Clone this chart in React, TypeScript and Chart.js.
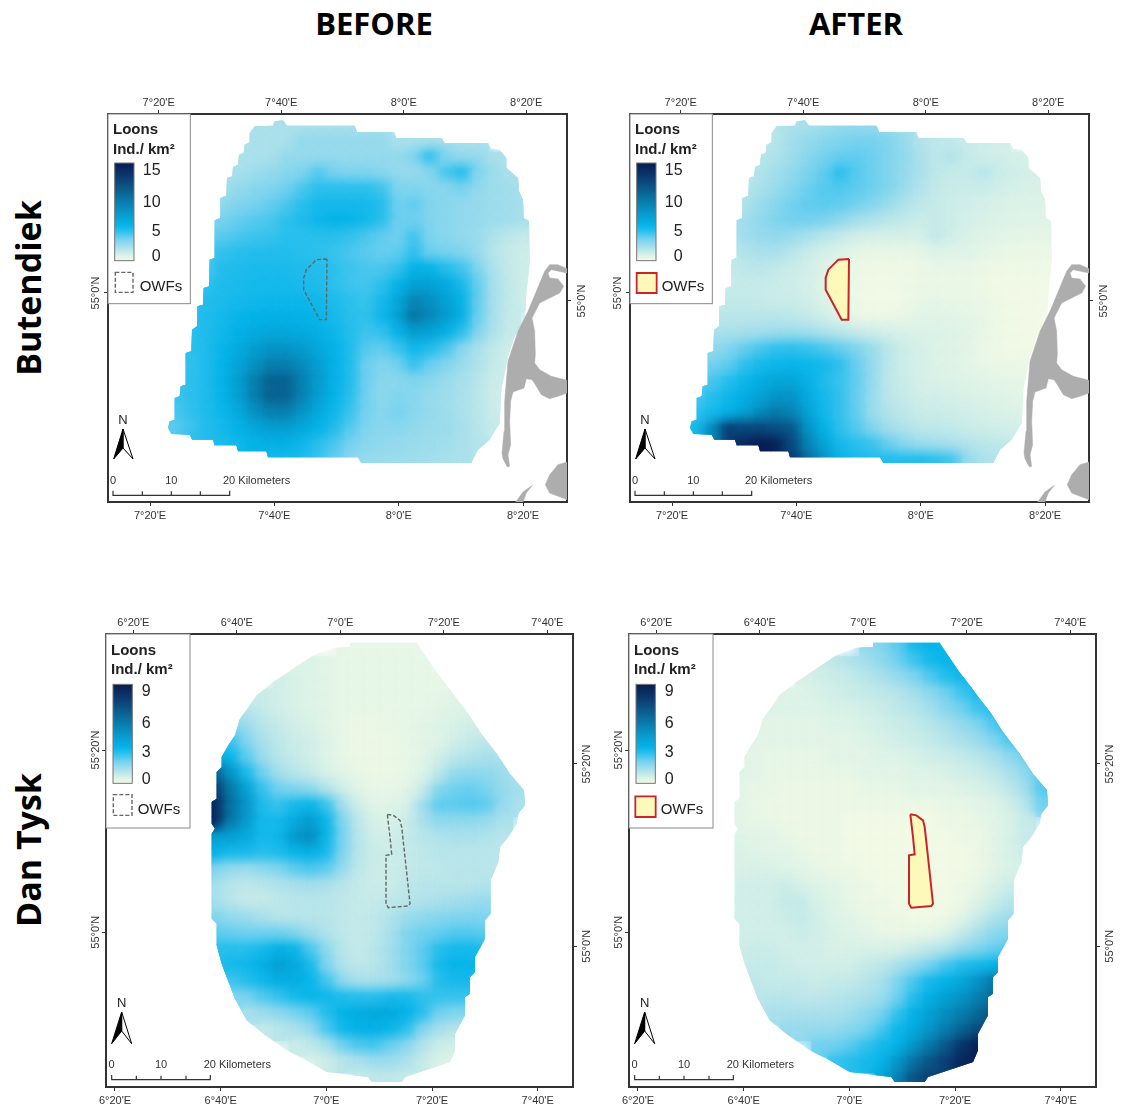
import React, { useEffect, useRef } from "react";
import { Chart, registerables } from "chart.js";

Chart.register(...registerables);

/* ---- density rows: first number is the starting column, then Ind./km² per cell ---- */
const butendiekBefore = [
  [5, 2, 2, 2, 2, 2, 2, 2, 2, 2],
  [4, 2, 2, 2, 2, 2.5, 2.5, 2.5, 2.5, 2.5, 2.5, 2, 2, 2, 2, 2, 2],
  [4, 2, 2, 2, 2.5, 2.5, 2.5, 2.5, 2.5, 2.5, 2.5, 2.5, 3, 4.5, 3, 2.5, 2.5, 2, 2],
  [3, 2, 2, 2.3, 2.5, 2.8, 3, 3.8, 3.2, 3, 3, 2.8, 2.5, 2.5, 2.8, 4, 4.8, 3, 2.3, 2, 2],
  [3, 2.3, 2.5, 2.8, 3, 3.3, 4, 4.5, 4.5, 4.5, 4.5, 4.2, 3, 3, 2.8, 2.8, 3.2, 2.6, 2.3, 2.2, 2],
  [2, 2.5, 2.6, 3, 3.2, 3.5, 4, 4.6, 5, 5, 5, 5, 4.7, 3.3, 3.6, 3, 2.8, 2.6, 2.5, 2.3, 2.2, 2.1],
  [2, 3, 3.2, 3.5, 3.8, 4, 4.5, 4.8, 5.2, 5.5, 5.3, 5.1, 4.6, 3.4, 3.4, 3, 2.8, 2.6, 2.5, 2.3, 2.2, 2.1],
  [2, 3.5, 3.7, 4, 4.2, 4.3, 4.6, 4.6, 4.6, 4.6, 4.4, 4, 3.6, 3.3, 4.2, 3, 2.8, 2.6, 2.4, 1.9, 1.5, 1.3],
  [2, 4.2, 4.4, 4.6, 4.7, 4.7, 4.7, 4.6, 4.5, 4.3, 4, 3.7, 3.5, 3.6, 4.5, 3.4, 3.2, 3, 2.4, 1.7, 1.3, 1.1],
  [2, 4, 4.7, 4.8, 4.9, 4.9, 4.9, 4.8, 4.7, 4.5, 4.2, 4, 4, 4.4, 5.5, 5.5, 4.7, 4.2, 3, 1.9, 1.3, 1.1],
  [1, 4, 4.5, 4.8, 4.9, 5, 5, 5, 4.9, 4.8, 4.5, 4.2, 4.1, 4.5, 5.5, 6.6, 6.6, 6, 5, 3.5, 2, 1.4, 1.1],
  [1, 4.5, 4.7, 4.9, 5, 5.1, 5.2, 5.2, 5.2, 5.1, 4.8, 4.5, 4.3, 5, 6.2, 8.5, 7.8, 6.6, 5.5, 3.5, 2, 1.4, 1.1],
  [1, 4.6, 4.8, 5, 5.3, 5.5, 5.6, 5.6, 5.5, 5.3, 5, 4.6, 4.4, 5.2, 6.6, 9.5, 8.2, 7, 5.7, 3.4, 2, 1.3],
  [1, 4.5, 4.8, 5.1, 5.6, 6, 6.2, 6.2, 6, 5.7, 5.2, 4.7, 4.2, 4.4, 5.5, 7, 6.6, 5.7, 4.6, 3, 1.9, 1.3],
  [0, 4.5, 4.6, 4.8, 5.3, 6, 6.8, 7.5, 7.5, 7, 6.2, 5.5, 4.8, 3.8, 3.6, 4.3, 5.2, 4.8, 4.1, 2.8, 2, 1.4, 1.1],
  [0, 4.3, 4.4, 4.8, 5.4, 6.4, 7.7, 8.8, 8.8, 8, 6.8, 5.6, 4.8, 3.4, 3, 3.3, 4.4, 3.5, 3, 2.4, 1.9, 1.3, 1.1],
  [0, 4.3, 4.5, 4.8, 5.5, 6.8, 8.8, 10.5, 10.5, 8.8, 7, 5.6, 4.8, 3.4, 2.8, 2.8, 3, 2.8, 2.4, 2.1, 1.7, 1.2],
  [0, 4.2, 4.5, 4.8, 5.4, 6.7, 8.8, 10.5, 10.5, 8.6, 6.8, 5.5, 4.6, 3.3, 2.7, 3, 2.8, 2.5, 2.3, 2, 1.6, 1.1],
  [0, 4, 4.4, 4.8, 5.2, 6, 7.6, 8.8, 8.8, 7.5, 6.2, 5.2, 4.3, 3.2, 2.8, 3.2, 2.8, 2.5, 2.3, 2, 1.6, 1.2],
  [0, 3.7, 4.2, 4.7, 5, 5.5, 6.2, 6.8, 6.8, 6.2, 5.5, 4.8, 3.8, 3, 2.8, 2.8, 2.6, 2.4, 2.4, 2.1, 1.7, 1.3],
  [1, 4.6, 4.8, 4.9, 5.2, 5.5, 5.7, 5.6, 5.2, 4.6, 4, 3.2, 2.8, 2.6, 2.5, 2.4, 2.3, 2.2, 2, 1.8],
  [6, 5, 5, 4.8, 4.3, 3.5, 2.8, 2.5, 2.4, 2.4, 2.3, 2.2, 2.1, 2],
];

const butendiekAfter = [
  [5, 1.8, 2, 2, 2.3, 2.5, 2.5, 2.5, 2.3, 2.2],
  [4, 1.5, 1.7, 2.2, 2.5, 2.8, 3, 3.2, 3.2, 3, 2.5, 1.8, 1.5, 1.4, 1.2, 1.1, 1],
  [4, 1.7, 1.9, 2.3, 2.8, 3.2, 3.5, 3.6, 3.4, 3, 2.6, 2, 1.5, 1.8, 1.3, 1.1, 1, 0.9, 0.9],
  [3, 1.5, 1.8, 2.2, 2.6, 3.1, 3.6, 4.6, 3.8, 3.4, 3, 2.5, 2, 1.5, 1.3, 1.3, 1.6, 1.2, 1, 0.9, 0.9],
  [3, 1.7, 2, 2.4, 2.9, 3.4, 3.8, 3.9, 3.7, 3.4, 3, 2.4, 1.8, 1.4, 1.2, 1.2, 1.2, 1, 0.9, 0.8, 0.8],
  [2, 1.7, 1.9, 2.4, 2.8, 3.3, 3.6, 3.7, 3.6, 3.3, 2.9, 2.4, 1.9, 1.5, 1.3, 1.1, 1, 0.9, 0.8, 0.7, 0.7, 0.7],
  [2, 2, 2.2, 2.6, 3, 3.3, 3.3, 3.1, 2.7, 2.2, 1.9, 1.6, 1.4, 1.2, 1.3, 1.1, 0.9, 0.8, 0.7, 0.6, 0.6, 0.6],
  [2, 2, 2.2, 2.5, 2.6, 2.4, 2, 1.7, 1.3, 1, 0.9, 0.9, 0.9, 0.9, 1.4, 1, 0.8, 0.6, 0.5, 0.4, 0.4, 0.4],
  [2, 1.5, 1.8, 2, 2, 1.7, 1.2, 0.9, 0.7, 0.4, 0.3, 0.3, 0.3, 0.4, 0.7, 0.6, 0.6, 0.4, 0.3, 0.2, 0.2, 0.2],
  [2, 1.3, 1.5, 1.6, 1.4, 1.2, 1, 0.7, 0.4, 0.2, 0.1, 0.1, 0.1, 0.2, 0.3, 0.3, 0.3, 0.2, 0.1, 0.1, 0.1, 0.1],
  [1, 1, 1.2, 1.3, 1.3, 1.2, 1.1, 0.9, 0.6, 0.3, 0.1, 0, 0, 0.1, 0.2, 0.2, 0.2, 0.2, 0.1, 0, 0, 0, 0],
  [1, 1.3, 1.4, 1.4, 1.3, 1.2, 1.2, 1, 0.7, 0.3, 0.1, 0, 0, 0.1, 0.3, 0.4, 0.3, 0.3, 0.2, 0.1, 0, 0, 0],
  [1, 1.6, 1.6, 1.6, 1.6, 1.6, 1.5, 1.3, 1, 0.6, 0.2, 0.2, 0.2, 0.3, 0.5, 0.5, 0.5, 0.4, 0.3, 0.1, 0, 0],
  [1, 2, 2, 2.1, 2.2, 2.3, 2.3, 2.2, 1.9, 1.6, 1.3, 1.1, 0.9, 0.8, 0.7, 0.7, 0.6, 0.5, 0.3, 0.1, 0, 0],
  [0, 2.5, 2.6, 2.9, 3.5, 4, 4.4, 4.5, 4.3, 4, 3.5, 3, 2.4, 1.6, 1.1, 0.9, 0.7, 0.6, 0.5, 0.2, 0.1, 0, 0],
  [0, 3, 3.2, 3.6, 4.4, 5, 5.2, 5.3, 5.2, 5, 4.5, 3.5, 2.5, 1.6, 1.1, 0.9, 0.7, 0.6, 0.4, 0.3, 0.2, 0.2, 0.2],
  [0, 3.7, 4, 4.6, 5.2, 5.8, 6.3, 6.3, 5.5, 4.8, 4.3, 3.6, 2.5, 1.5, 1.2, 0.9, 0.8, 0.7, 0.6, 0.5, 0.4, 0.4],
  [0, 4, 4.6, 5.2, 5.8, 6.5, 7.5, 7.5, 6, 5, 4.4, 3.5, 2.4, 1.6, 1.3, 1, 1, 0.9, 0.8, 0.7, 0.6, 0.5],
  [0, 4.5, 5, 5.5, 6.5, 8, 9, 8.5, 6.5, 5.1, 4.4, 3.6, 2.4, 1.8, 1.5, 1.2, 1.2, 1.1, 1, 0.9, 0.8, 0.7],
  [0, 5, 8, 12.5, 12, 12, 11.5, 11, 7.5, 5.5, 4.5, 3.8, 3, 2.2, 1.9, 1.5, 1.5, 1.4, 1.2, 1.1, 1, 1],
  [1, 8, 13, 14, 15, 14.5, 12, 8.5, 6.5, 5, 4.6, 4.3, 3.5, 2.8, 2.4, 2.2, 2, 1.8, 1.6, 1.5],
  [6, 13, 10, 7.5, 5.5, 5, 4.8, 4.8, 4.8, 4.8, 4.6, 4.2, 2.5, 2, 1.8],
];

const danTyskBefore = [
  [8, 0.2, 0.2, 0.2, 0.2, 0.2, 0.2],
  [5, 0.4, 0.4, 0.3, 0.2, 0.2, 0.2, 0.2, 0.2, 0.2, 0.2],
  [4, 0.6, 0.5, 0.4, 0.3, 0.2, 0.2, 0.2, 0.2, 0.2, 0.2, 0.2, 0.2],
  [2, 0.8, 0.7, 0.6, 0.5, 0.4, 0.3, 0.2, 0.2, 0.2, 0.2, 0.2, 0.2, 0.2, 0.3, 0.3],
  [1, 1.2, 1, 0.8, 0.6, 0.5, 0.4, 0.3, 0.2, 0.2, 0.2, 0.2, 0.2, 0.2, 0.3, 0.4, 0.4, 0.5],
  [1, 1.8, 1.4, 1, 0.8, 0.6, 0.5, 0.3, 0.2, 0.1, 0.1, 0.2, 0.2, 0.3, 0.4, 0.5, 0.6, 0.7],
  [0, 2.5, 2.6, 1.8, 1.2, 0.9, 0.7, 0.6, 0.4, 0.2, 0.1, 0.1, 0.1, 0.2, 0.3, 0.4, 0.6, 0.8, 0.9, 0.9],
  [0, 3.5, 3.2, 2.2, 1.4, 1, 0.8, 0.6, 0.4, 0.2, 0.1, 0.1, 0.1, 0.2, 0.3, 0.6, 0.9, 1.1, 1.2, 1.2, 1],
  [0, 6.5, 4.5, 3, 2, 1.3, 1, 0.8, 0.5, 0.3, 0.2, 0.1, 0.1, 0.2, 0.4, 0.9, 1.5, 1.6, 1.6, 1.4, 1.1],
  [0, 8, 5.5, 4, 2.6, 2, 1.8, 1.6, 1.1, 0.6, 0.3, 0.2, 0.2, 0.3, 0.7, 1.7, 2, 2.1, 1.9, 1.5, 1.3],
  [0, 8.5, 5.8, 4.5, 2.9, 2.6, 3, 3.2, 2.6, 1.3, 0.6, 0.3, 0.4, 0.5, 1.3, 2.2, 2.2, 2.3, 2.2, 1.5, 1.2],
  [0, 8.5, 5.5, 4.3, 3, 3, 3.6, 4.2, 3.2, 1.8, 0.9, 0.5, 0.5, 0.7, 1.2, 1.6, 1.6, 1.6, 1.5, 1.2],
  [0, 4, 4, 3.6, 3, 3.1, 4.3, 4.8, 3.2, 1.9, 1, 0.6, 0.6, 0.8, 1, 1.1, 1.2, 1.2, 1.1, 1],
  [0, 3.3, 3, 3, 2.8, 2.9, 3.2, 3.4, 3, 1.8, 1, 0.7, 0.7, 0.8, 0.9, 1, 1, 1, 1, 1],
  [0, 1.8, 1.5, 1.4, 1.6, 1.8, 2.2, 2.4, 2.2, 1.5, 0.9, 0.7, 0.7, 0.8, 0.9, 0.9, 1, 1, 1],
  [0, 1.3, 1, 0.9, 1, 1.1, 1.2, 1.3, 1.2, 1, 0.8, 0.7, 0.7, 0.9, 1, 1, 1, 1, 1.1],
  [0, 1.3, 1, 0.8, 0.8, 0.9, 1, 1, 1, 0.9, 0.8, 0.8, 0.9, 1, 1.1, 1.2, 1.3, 1.4, 1.5],
  [0, 1.8, 1.5, 1.4, 1.2, 1, 1, 1, 1, 0.9, 0.8, 0.9, 1.1, 1.4, 1.6, 1.7, 1.8, 1.8, 1.8],
  [0, 2.2, 2.1, 2, 2, 2, 1.8, 1.4, 1.1, 0.9, 0.8, 0.9, 1.2, 1.8, 2, 2.1, 2.3, 2.3, 2.2],
  [0, 2.8, 2.8, 2.8, 3, 3.4, 3.2, 2.4, 1.6, 1, 0.8, 1, 1.3, 1.8, 2.2, 2.8, 3, 3, 2.9],
  [0, 2.8, 3, 3.1, 3.4, 4, 3.7, 3, 1.8, 1.1, 0.9, 1, 1.3, 1.8, 2.2, 3, 3.2, 3.2, 3],
  [1, 2.5, 2.8, 3.1, 3.5, 3.5, 3.2, 2.5, 1.6, 1.2, 1.2, 1.3, 1.6, 2, 2.8, 3, 3, 2.8],
  [1, 1.8, 1.9, 2.3, 2.6, 3, 3.2, 3.1, 2.9, 2.8, 2.8, 3, 3, 2.7, 2.6, 2.6, 2.6],
  [2, 1.2, 1.4, 1.6, 1.9, 2.2, 2.8, 3.3, 3.5, 3.7, 3.7, 3.3, 2.8, 2, 1.8, 1.8, 1.6],
  [3, 0.8, 1, 1.2, 1.5, 2.4, 3.1, 3.4, 3.4, 3.2, 2.8, 1.8, 1.3, 1.1, 1, 1],
  [5, 0.7, 0.9, 1.2, 2, 2.4, 2.5, 2.1, 1.7, 1.1, 0.7, 0.6, 0.5, 0.5],
  [6, 0.5, 0.7, 1, 1.2, 1.4, 1.4, 1.2, 0.8, 0.5, 0.4, 0.3],
  [9, 0.8, 0.9, 0.9, 0.8],
];

const danTyskAfter = [
  [8, 1.6, 1.8, 2.2, 3, 3.2, 3.2],
  [5, 0.7, 0.9, 1.1, 1.3, 1.6, 2, 2.5, 3, 3.2, 3.2],
  [4, 0.5, 0.6, 0.7, 0.8, 1, 1.2, 1.5, 1.8, 2.3, 2.8, 3.1, 3.1],
  [2, 0.5, 0.4, 0.4, 0.5, 0.6, 0.7, 0.8, 0.9, 1, 1.3, 1.6, 2, 2.5, 3, 3.2],
  [1, 0.5, 0.4, 0.4, 0.4, 0.4, 0.5, 0.5, 0.6, 0.7, 0.9, 1, 1.3, 1.7, 2, 2.5, 2.9, 3.2],
  [1, 0.4, 0.3, 0.3, 0.3, 0.3, 0.4, 0.4, 0.5, 0.6, 0.7, 0.8, 1, 1.2, 1.5, 1.8, 2.3, 2.9],
  [0, 0.4, 0.3, 0.3, 0.3, 0.3, 0.3, 0.3, 0.3, 0.4, 0.5, 0.6, 0.7, 0.8, 1, 1.2, 1.4, 1.8, 2.3, 2.8],
  [0, 0.4, 0.3, 0.2, 0.2, 0.2, 0.2, 0.3, 0.3, 0.3, 0.4, 0.4, 0.5, 0.6, 0.7, 0.8, 1, 1.2, 1.6, 2, 2.6],
  [0, 0.4, 0.3, 0.2, 0.2, 0.2, 0.2, 0.2, 0.2, 0.3, 0.3, 0.3, 0.4, 0.4, 0.5, 0.6, 0.7, 0.9, 1.2, 1.6, 2.3],
  [0, 0.3, 0.2, 0.2, 0.1, 0.1, 0.1, 0.1, 0.1, 0.2, 0.2, 0.2, 0.3, 0.3, 0.3, 0.4, 0.5, 0.6, 0.9, 1.3, 2.3],
  [0, 0.3, 0.2, 0.1, 0.1, 0.1, 0.1, 0.1, 0.1, 0.1, 0.1, 0.1, 0.1, 0.1, 0.2, 0.2, 0.3, 0.4, 0.6, 1, 2],
  [0, 0.3, 0.2, 0.2, 0.1, 0.1, 0.1, 0.1, 0, 0, 0, 0, 0, 0, 0.1, 0.1, 0.2, 0.3, 0.5, 0.8],
  [0, 0.4, 0.3, 0.3, 0.2, 0.1, 0.1, 0.1, 0, 0, 0, 0, 0, 0, 0, 0.1, 0.1, 0.3, 0.5, 0.8],
  [0, 0.5, 0.4, 0.3, 0.3, 0.2, 0.1, 0.1, 0, 0, 0, 0, 0, 0, 0, 0, 0.1, 0.3, 0.5, 0.7],
  [0, 0.5, 0.5, 0.5, 0.4, 0.3, 0.2, 0.1, 0.1, 0, 0, 0, 0, 0, 0, 0, 0.1, 0.3, 0.5],
  [0, 0.6, 0.6, 0.6, 0.7, 0.5, 0.4, 0.3, 0.2, 0.1, 0, 0, 0, 0, 0, 0.1, 0.2, 0.5, 0.7],
  [0, 0.6, 0.6, 0.6, 0.8, 0.8, 0.5, 0.4, 0.2, 0.1, 0.1, 0, 0, 0, 0, 0.1, 0.4, 0.7, 1],
  [0, 0.6, 0.6, 0.6, 0.7, 0.8, 0.6, 0.4, 0.3, 0.2, 0.1, 0.1, 0, 0, 0.1, 0.3, 0.7, 1.1, 1.4],
  [0, 0.6, 0.6, 0.6, 0.6, 0.7, 0.6, 0.5, 0.4, 0.3, 0.2, 0.2, 0.2, 0.2, 0.4, 0.8, 1.2, 1.6, 1.8],
  [0, 0.7, 0.7, 0.7, 0.6, 0.6, 0.6, 0.5, 0.5, 0.5, 0.5, 0.5, 0.7, 0.9, 1.1, 1.5, 1.8, 2.1, 2.3],
  [0, 0.7, 0.8, 0.8, 0.7, 0.6, 0.6, 0.6, 0.6, 0.8, 0.9, 1.2, 1.5, 1.9, 2.4, 2.8, 3, 3.2, 3.4],
  [1, 0.9, 0.8, 0.8, 0.8, 0.7, 0.8, 0.8, 1, 1.2, 1.8, 2.4, 3, 3.3, 3.7, 4.5, 5.5, 5.6],
  [1, 1, 1, 1, 0.9, 0.9, 1, 1.1, 1.2, 1.4, 2, 2.8, 3.4, 4, 4.5, 5.2, 6],
  [2, 1.2, 1.2, 1.2, 1.2, 1.2, 1.3, 1.6, 1.9, 2.6, 3.3, 4, 4.7, 5.3, 6, 6.8],
  [3, 1.5, 1.5, 1.5, 1.5, 1.7, 1.9, 2.4, 3.1, 3.6, 4.4, 5.3, 6.2, 7, 7.6],
  [5, 2, 2, 2.2, 2.6, 3, 3.3, 4.4, 5.5, 6.5, 7.8, 8.7, 9],
  [6, 2.6, 2.8, 3, 3.2, 4.3, 5.7, 6.7, 7.5, 8.5, 8.8, 9],
  [9, 3.8, 5.2, 6.8, 7.5],
];

/* ---- map outlines, in map units ---- */
type P = [number, number];
const surveyA: P[] = [[520,108],[525,95],[550,92],[562,108],[765,108],[772,127],[885,127],[890,145],[1025,145],[1035,160],[1165,160],[1175,178],[1200,180],[1220,205],[1220,235],[1255,265],[1258,305],[1270,330],[1272,385],[1288,395],[1290,520],[1280,610],[1275,700],[1245,740],[1225,800],[1205,900],[1200,1000],[1170,1050],[1135,1080],[1115,1120],[785,1120],[775,1103],[505,1103],[500,1085],[415,1085],[410,1067],[345,1067],[340,1050],[278,1050],[270,1035],[215,1033],[205,1015],[210,995],[225,990],[225,925],[240,920],[243,890],[258,885],[258,790],[275,785],[277,720],[292,710],[293,650],[310,645],[312,595],[328,590],[330,510],[345,505],[345,392],[362,385],[362,325],[380,318],[382,265],[398,260],[400,232],[415,225],[418,195],[432,190],[435,165],[450,158],[450,130],[465,110]];
const surveyB: P[] = [[750,97],[950,97],[968,125],[985,150],[1005,180],[1040,225],[1070,265],[1105,310],[1140,365],[1190,430],[1230,490],[1272,540],[1275,585],[1255,610],[1250,640],[1225,680],[1200,710],[1195,755],[1172,810],[1172,910],[1155,930],[1155,985],[1125,1040],[1125,1085],[1110,1100],[1110,1150],[1095,1160],[1095,1215],[1065,1270],[1065,1320],[1050,1355],[990,1375],[915,1400],[905,1415],[815,1415],[805,1400],[760,1395],[680,1385],[620,1350],[560,1320],[490,1270],[440,1230],[405,1165],[380,1100],[365,1060],[350,1005],[350,940],[335,925],[335,670],[345,655],[335,640],[335,575],[350,565],[350,485],[365,470],[365,440],[385,405],[405,375],[420,325],[450,285],[470,255],[520,215],[580,175],[640,135],[700,112],[750,110]];
const owfA: P[] = [[682,508],[650,510],[620,540],[612,565],[612,600],[660,690],[680,690],[682,508]];
const owfB: P[] = [[862,612],[880,615],[900,630],[905,650],[915,740],[930,880],[925,887],[865,892],[858,880],[858,735],[875,732],[870,680],[862,612]];
const sylt: P[] = [[1335,545],[1350,525],[1375,525],[1402,537],[1402,550],[1355,540],[1345,550],[1350,565],[1375,568],[1392,590],[1380,610],[1350,625],[1320,640],[1297,685],[1305,725],[1307,795],[1305,820],[1320,840],[1355,860],[1402,872],[1402,910],[1375,920],[1350,927],[1325,915],[1307,885],[1297,870],[1280,867],[1273,895],[1240,907],[1233,935],[1230,995],[1233,1065],[1225,1095],[1230,1130],[1223,1132],[1210,1107],[1207,1090],[1213,1025],[1215,935],[1220,875],[1225,815],[1255,725],[1285,665],[1310,605],[1335,545]];
const foehr: P[] = [[1402,1117],[1375,1125],[1350,1155],[1337,1185],[1350,1210],[1402,1230],[1402,1117]];
const amrum: P[] = [[1298,1187],[1270,1207],[1248,1237],[1270,1237],[1280,1210],[1298,1187]];

/* ---- axis ticks, in minutes of arc ---- */
const lonTicksA = [440, 460, 480, 500];
const lonTicksB = [380, 400, 420, 440, 460];
const latTicksA = [3300];
const latTicksB = [3320, 3300];
const colourStops: [number, string][] = [
  [0, "#f2fae6"], [0.05, "#dcf3e8"], [0.13, "#aee2ec"], [0.22, "#75d2f0"], [0.3, "#2ec1ee"], [0.36, "#06b5ea"],
  [0.5, "#0896c8"], [0.67, "#0a6c9a"], [0.85, "#0c3c72"], [1, "#071c52"],
];
const legendA = { labels: [["15", 243], ["10", 338], ["5", 425], ["0", 500]] as [string, number][], max: 15 };
const legendB = { labels: [["9", 243], ["6", 341], ["3", 428], ["0", 509]] as [string, number][], max: 9 };

const FONT = '"Liberation Sans", Arial, sans-serif';
const INK = "#333";

function hex(c: string) {
  return [1, 3, 5].map((i) => parseInt(c.slice(i, i + 2), 16));
}
function colourOf(frac: number) {
  for (let i = 1; i < colourStops.length; i++) {
    const [f1, c1] = colourStops[i];
    const [f0, c0] = colourStops[i - 1];
    if (frac <= f1) {
      const t = (frac - f0) / (f1 - f0);
      const a = hex(c0), b = hex(c1);
      return `rgb(${a.map((v, k) => Math.round(v + (b[k] - v) * t)).join(",")})`;
    }
  }
  return colourStops[colourStops.length - 1][1];
}
const pts = (p: P[]) => p.map(([x, y]) => ({ x, y }));

function heatCells(rows: number[][], x0: number, y0: number, step: number, max: number) {
  const data: { x: number; y: number }[] = [];
  const colours: string[] = [];
  rows.forEach((r, j) => {
    r.slice(1).forEach((v, i) => {
      data.push({ x: x0 + (r[0] + i) * step, y: y0 + j * step });
      colours.push(colourOf(v / max));
    });
  });
  return { data, colours };
}

const mapPlugin = {
  id: "mapPlugin",
  beforeDatasetDraw(chart: any, args: any) {
    const ds = chart.data.datasets[args.index];
    if (!ds.clipTo) return;
    const { ctx, scales } = chart;
    ctx.save();
    ctx.beginPath();
    ds.clipTo.forEach(([x, y]: P, i: number) => {
      const px = scales.x.getPixelForValue(x), py = scales.y.getPixelForValue(y);
      if (i) ctx.lineTo(px, py); else ctx.moveTo(px, py);
    });
    ctx.closePath();
    ctx.clip();
    if (ds.blurPx) ctx.filter = `blur(${ds.blurPx}px)`;
  },
  afterDatasetDraw(chart: any, args: any) {
    if (chart.data.datasets[args.index].clipTo) chart.ctx.restore();
  },
  afterDraw(chart: any) {
    const o = chart.options.plugins.mapPlugin;
    const { ctx, scales } = chart;
    const X = (v: number) => scales.x.getPixelForValue(v);
    const Y = (v: number) => scales.y.getPixelForValue(v);
    ctx.save();
    // legend box
    ctx.fillStyle = "#fff";
    ctx.strokeStyle = "#8a8a8a";
    ctx.lineWidth = 1;
    ctx.fillRect(X(o.box[0]), Y(o.box[1]), X(o.box[2]) - X(o.box[0]), Y(o.box[3]) - Y(o.box[1]));
    ctx.strokeRect(X(o.box[0]), Y(o.box[1]), X(o.box[2]) - X(o.box[0]), Y(o.box[3]) - Y(o.box[1]));
    // colour ramp
    const g = ctx.createLinearGradient(0, Y(o.bar[3]), 0, Y(o.bar[1]));
    colourStops.forEach(([f, c]) => g.addColorStop(f, c));
    ctx.fillStyle = g;
    ctx.fillRect(X(o.bar[0]), Y(o.bar[1]), X(o.bar[2]) - X(o.bar[0]), Y(o.bar[3]) - Y(o.bar[1]));
    ctx.strokeStyle = "#777";
    ctx.strokeRect(X(o.bar[0]), Y(o.bar[1]), X(o.bar[2]) - X(o.bar[0]), Y(o.bar[3]) - Y(o.bar[1]));
    // legend text
    ctx.fillStyle = "#222";
    ctx.textBaseline = "alphabetic";
    ctx.textAlign = "left";
    ctx.font = `bold 15px ${FONT}`;
    ctx.fillText("Loons", X(o.textX), Y(o.titleY[0]));
    ctx.fillText("Ind./ km²", X(o.textX), Y(o.titleY[1]));
    ctx.font = `16px ${FONT}`;
    ctx.textAlign = "right";
    ctx.textBaseline = "middle";
    o.legend.labels.forEach(([t, y]: [string, number]) => ctx.fillText(t, X(o.labelX), Y(y)));
    // OWF swatch
    const s = o.swatch;
    ctx.beginPath();
    ctx.rect(X(s[0]), Y(s[1]), X(s[2]) - X(s[0]), Y(s[3]) - Y(s[1]));
    if (o.after) {
      ctx.fillStyle = "#fdf9bb";
      ctx.fill();
      ctx.strokeStyle = "#c8252b";
      ctx.lineWidth = 1.8;
      ctx.stroke();
    } else {
      ctx.strokeStyle = "#666";
      ctx.lineWidth = 1.4;
      ctx.setLineDash([4, 2]);
      ctx.stroke();
      ctx.setLineDash([]);
    }
    ctx.fillStyle = "#222";
    ctx.textAlign = "left";
    ctx.textBaseline = "alphabetic";
    ctx.font = `15px ${FONT}`;
    ctx.fillText("OWFs", X(o.owfText[0]), Y(o.owfText[1]));
    // north letter and scale bar text
    ctx.textAlign = "center";
    ctx.font = `13px ${FONT}`;
    ctx.fillText("N", X(o.north[0]), Y(o.north[1]));
    ctx.font = `11px ${FONT}`;
    ctx.fillStyle = INK;
    ctx.fillText("0", X(o.sb[0]), Y(o.sb[2]));
    ctx.fillText("10", X(o.sb[1]), Y(o.sb[2]));
    ctx.textAlign = "left";
    ctx.fillText("20 Kilometers", X(o.sb[3]), Y(o.sb[2]));
    ctx.restore();
  },
};

type PanelCfg = {
  left: number; top: number; width: number; height: number;
  rows: number[][]; outline: P[]; owf: P[]; after: boolean; land: P[][];
  mapX: [number, number]; mapY: [number, number]; cellX0: number;
  lonTicks: number[]; latTicks: number[];
  bottom: [number, number]; topAxis: [number, number]; leftAxis: [number, number]; rightAxis: [number, number];
  latPadL: number; latPadR: number; legend: typeof legendA; plug: any; scaleBar: P[]; arrow: { black: P[]; white: P[] };
};

const plugA = {
  box: [25, 73, 272, 642], bar: [45, 220, 103, 513], textX: 40, titleY: [133, 192], labelX: 183,
  swatch: [47, 548, 100, 608], owfText: [120, 604], north: [70, 1003], sb: [40, 215, 1182, 370],
};
const plugB = {
  box: [18, 71, 270, 653], bar: [39, 222, 97, 519], textX: 33, titleY: [133, 192], labelX: 152,
  swatch: [40, 553, 96, 615], owfText: [113, 611], north: [65, 1190], sb: [35, 183, 1372, 311],
};
const plugBAfter = { ...plugB, swatch: [37, 558, 98, 620] };
const plugAAfter = { ...plugA, swatch: [45, 550, 105, 610] };

const barA: P[] = [[40,1203],[40,1217],[128,1217],[128,1205],[128,1217],[215,1217],[215,1205],[215,1217],[302,1217],[302,1205],[302,1217],[390,1217],[390,1203]];
const barB: P[] = [[35,1394],[35,1408],[109,1408],[109,1396],[109,1408],[183,1408],[183,1396],[183,1408],[258,1408],[258,1396],[258,1408],[331,1408],[331,1394]];
const arrowA = { black: [[70,1018],[42,1108],[70,1075],[70,1018]] as P[], white: [[70,1018],[100,1108],[70,1075],[70,1018]] as P[] };
const arrowB = { black: [[65,1205],[35,1300],[65,1262],[65,1205]] as P[], white: [[65,1205],[95,1300],[65,1262],[65,1205]] as P[] };

const commonA = {
  width: 459, height: 388, outline: surveyA, owf: owfA, land: [sylt, foehr, amrum],
  mapX: [25, 1402] as [number, number], mapY: [73, 1237] as [number, number], cellX0: 230,
  lonTicks: lonTicksA, latTicks: latTicksA,
  bottom: [433.24, 507.07] as [number, number], topAxis: [431.72, 506.66] as [number, number],
  leftAxis: [3280.65, 3316.57] as [number, number], rightAxis: [3281.39, 3317.31] as [number, number],
  latPadL: -8, latPadR: -5, legend: legendA, scaleBar: barA, arrow: arrowA,
};
const commonB = {
  width: 467, height: 453, outline: surveyB, owf: owfB, land: [] as P[][],
  mapX: [18, 1419] as [number, number], mapY: [71, 1430] as [number, number], cellX0: 350,
  lonTicks: lonTicksB, latTicks: latTicksB,
  bottom: [378.3, 466.68] as [number, number], topAxis: [374.72, 464.96] as [number, number],
  leftAxis: [3283.03, 3332.73] as [number, number], rightAxis: [3284.56, 3334.26] as [number, number],
  latPadL: -13, latPadR: -9, legend: legendB, scaleBar: barB, arrow: arrowB,
};

const panels: PanelCfg[] = [
  { ...commonA, left: 108, top: 114, rows: butendiekBefore, after: false, plug: plugA },
  { ...commonA, left: 630, top: 114, rows: butendiekAfter, after: true, plug: plugAAfter },
  { ...commonB, left: 106, top: 634, rows: danTyskBefore, after: false, plug: plugB },
  { ...commonB, left: 629, top: 634, rows: danTyskAfter, after: true, plug: plugBAfter },
];

const M = 30;
const lonLabel = (v: number) => `${Math.floor(v / 60)}°${v % 60}'E`;
const latLabel = (v: number) => `${Math.floor(v / 60)}°${v % 60}'N`;

function axis(position: string, range: [number, number], ticks: number[], label: (v: number) => string, pad: number, vertical: boolean) {
  return {
    type: "linear",
    position,
    min: range[0],
    max: range[1],
    afterBuildTicks: (s: any) => { s.ticks = ticks.map((value) => ({ value })); },
    afterFit: (s: any) => { if (vertical) s.width = M; else s.height = M; },
    border: { display: true, color: INK, width: 2 },
    grid: { drawOnChartArea: false, drawTicks: true, tickLength: 4, color: INK, tickColor: INK, tickWidth: 1 },
    ticks: {
      autoSkip: false,
      callback: (v: number) => label(v),
      color: INK,
      font: { family: FONT, size: 11 },
      padding: pad,
      ...(vertical ? { minRotation: 90, maxRotation: 90, crossAlign: "center" } : { maxRotation: 0 }),
    },
  };
}

function makeConfig(p: PanelCfg): any {
  const step = 48;
  const { data, colours } = heatCells(p.rows, p.cellX0, 115, step, p.legend.max);
  const lineDs = (d: P[], o: any) => ({ type: "scatter", data: pts(d), showLine: true, pointRadius: 0, tension: 0, ...o });
  const datasets: any[] = [
    lineDs(p.scaleBar, { borderColor: INK, borderWidth: 1.2, fill: false }),
    lineDs(p.arrow.black, { borderColor: "#000", borderWidth: 1, backgroundColor: "#000", fill: "shape" }),
    lineDs(p.arrow.white, { borderColor: "#000", borderWidth: 1, backgroundColor: "#fff", fill: "shape" }),
    p.after
      ? lineDs(p.owf, { borderColor: "#c8252b", borderWidth: 2, backgroundColor: "#fdf9bb", fill: "shape" })
      : lineDs(p.owf, { borderColor: "#666", borderWidth: 1.4, borderDash: [4, 2], fill: false }),
    ...p.land.map((l) => lineDs(l, { borderColor: "#adadad", borderWidth: 0.5, backgroundColor: "#adadad", fill: "shape" })),
    { type: "scatter", data, pointStyle: "rect", pointRadius: 15.5, pointBorderWidth: 0, pointBackgroundColor: colours, clipTo: p.outline, blurPx: 6 },
    { type: "scatter", data, pointStyle: "rect", pointRadius: 11.8, pointBorderWidth: 0, pointBackgroundColor: colours, clipTo: p.outline },
  ];
  return {
    type: "scatter",
    data: { datasets },
    plugins: [mapPlugin],
    options: {
      animation: false,
      responsive: false,
      events: [],
      layout: { padding: 0 },
      plugins: {
        legend: { display: false },
        tooltip: { enabled: false },
        mapPlugin: { ...p.plug, legend: p.legend, after: p.after },
      },
      scales: {
        x: { type: "linear", display: false, position: "bottom", min: p.mapX[0], max: p.mapX[1] },
        y: { type: "linear", display: false, position: "left", reverse: true, min: p.mapY[0], max: p.mapY[1] },
        lonBottom: axis("bottom", p.bottom, p.lonTicks, lonLabel, 3, false),
        lonTop: axis("top", p.topAxis, p.lonTicks, lonLabel, 0, false),
        latLeft: axis("left", p.leftAxis, p.latTicks, latLabel, p.latPadL, true),
        latRight: axis("right", p.rightAxis, p.latTicks, latLabel, p.latPadR, true),
      },
    },
  };
}

function Panel({ cfg }: { cfg: PanelCfg }) {
  const ref = useRef<HTMLCanvasElement>(null);
  useEffect(() => {
    const chart = new Chart(ref.current as HTMLCanvasElement, makeConfig(cfg));
    return () => chart.destroy();
  }, [cfg]);
  return (
    <canvas
      ref={ref}
      width={cfg.width + 2 * M}
      height={cfg.height + 2 * M}
      style={{ position: "absolute", left: cfg.left - M, top: cfg.top - M, width: cfg.width + 2 * M, height: cfg.height + 2 * M }}
    />
  );
}

const headStyle: React.CSSProperties = {
  position: "absolute", font: '700 31px "Open Sans", sans-serif', color: "#000", whiteSpace: "nowrap", lineHeight: "40px", textAlign: "center",
};
const sideStyle: React.CSSProperties = { ...headStyle, fontSize: 34, transform: "rotate(-90deg)", left: -72, width: 200 };

export default function App() {
  return (
    <div style={{ position: "absolute", left: 0, top: 0, width: 1125, height: 1107, background: "#fff", overflow: "hidden" }}>
      <div style={{ ...headStyle, left: 274, width: 200, top: 3 }}>BEFORE</div>
      <div style={{ ...headStyle, left: 756, width: 200, top: 3 }}>AFTER</div>
      <div style={{ ...sideStyle, top: 268 }}>Butendiek</div>
      <div style={{ ...sideStyle, top: 830 }}>Dan Tysk</div>
      {panels.map((p, i) => <Panel key={i} cfg={p} />)}
    </div>
  );
}
